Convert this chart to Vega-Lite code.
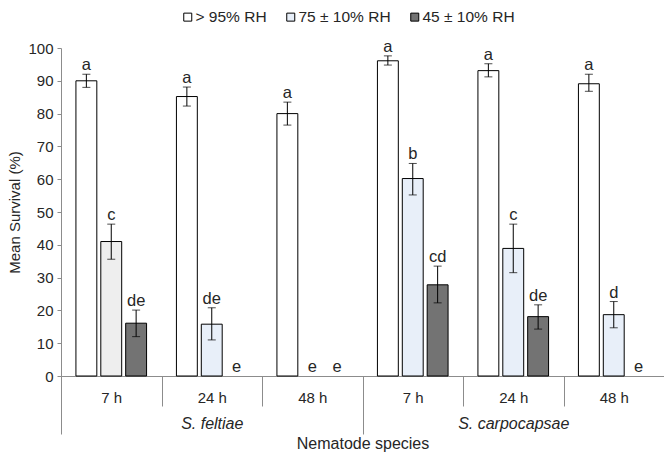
{
  "$schema": "https://vega.github.io/schema/vega-lite/v6.json",
  "autosize": "none",
  "width": 603,
  "height": 328,
  "padding": {"left": 61, "top": 48, "right": 0, "bottom": 83},
  "background": "white",
  "config": {
    "view": {"stroke": null},
    "font": "Liberation Sans",
    "axis": {"labelFont": "Liberation Sans", "titleFont": "Liberation Sans", "labelColor": "#262626", "titleColor": "#262626", "titleFontWeight": "normal", "domainColor": "#8c8c8c", "tickColor": "#8c8c8c", "grid": false},
    "axisY": {"labelOverlap": false, "tickCount": 12, "tickSize": 4, "labelPadding": 4, "labelFontSize": 15, "titleFontSize": 15, "titlePadding": 5},
    "legend": {"labelFont": "Liberation Sans", "labelColor": "#262626"}
  },
  "data": {"values": [
    {"species": "S. feltiae", "hour": "7 h", "series": "\u00a0> 95% RH", "mean": 90, "lo": 88, "hi": 92, "letter": "a"},
    {"species": "S. feltiae", "hour": "7 h", "series": "75 ± 10% RH", "mean": 41, "lo": 35.6, "hi": 46.3, "letter": "c"},
    {"species": "S. feltiae", "hour": "7 h", "series": "45 ± 10% RH", "mean": 16.1, "lo": 12, "hi": 20.1, "letter": "de"},
    {"species": "S. feltiae", "hour": "24 h", "series": "\u00a0> 95% RH", "mean": 85.2, "lo": 82.3, "hi": 88.1, "letter": "a"},
    {"species": "S. feltiae", "hour": "24 h", "series": "75 ± 10% RH", "mean": 15.8, "lo": 11, "hi": 20.8, "letter": "de"},
    {"species": "S. feltiae", "hour": "24 h", "series": "45 ± 10% RH", "mean": 0, "lo": 0, "hi": 0, "letter": "e"},
    {"species": "S. feltiae", "hour": "48 h", "series": "\u00a0> 95% RH", "mean": 80, "lo": 76.5, "hi": 83.5, "letter": "a"},
    {"species": "S. feltiae", "hour": "48 h", "series": "75 ± 10% RH", "mean": 0, "lo": 0, "hi": 0, "letter": "e"},
    {"species": "S. feltiae", "hour": "48 h", "series": "45 ± 10% RH", "mean": 0, "lo": 0, "hi": 0, "letter": "e"},
    {"species": "S. carpocapsae", "hour": "7 h", "series": "\u00a0> 95% RH", "mean": 96.1, "lo": 94.8, "hi": 97.6, "letter": "a"},
    {"species": "S. carpocapsae", "hour": "7 h", "series": "75 ± 10% RH", "mean": 60.2, "lo": 55.2, "hi": 64.8, "letter": "b"},
    {"species": "S. carpocapsae", "hour": "7 h", "series": "45 ± 10% RH", "mean": 27.8, "lo": 22.3, "hi": 33.5, "letter": "cd"},
    {"species": "S. carpocapsae", "hour": "24 h", "series": "\u00a0> 95% RH", "mean": 93.1, "lo": 91.2, "hi": 95.2, "letter": "a"},
    {"species": "S. carpocapsae", "hour": "24 h", "series": "75 ± 10% RH", "mean": 38.9, "lo": 31.5, "hi": 46.3, "letter": "c"},
    {"species": "S. carpocapsae", "hour": "24 h", "series": "45 ± 10% RH", "mean": 18.1, "lo": 14.3, "hi": 21.7, "letter": "de"},
    {"species": "S. carpocapsae", "hour": "48 h", "series": "\u00a0> 95% RH", "mean": 89.1, "lo": 86.8, "hi": 92, "letter": "a"},
    {"species": "S. carpocapsae", "hour": "48 h", "series": "75 ± 10% RH", "mean": 18.7, "lo": 14.7, "hi": 22.7, "letter": "d"},
    {"species": "S. carpocapsae", "hour": "48 h", "series": "45 ± 10% RH", "mean": 0, "lo": 0, "hi": 0, "letter": "e"}
  ]},
  "transform": [{"calculate": "datum.species + '|' + datum.hour", "as": "group"}],
  "resolve": {"scale": {"x": "independent"}, "axis": {"x": "independent"}},
  "layer": [
    {
      "resolve": {"scale": {"x": "shared"}},
      "encoding": {
        "x": {"field": "group", "type": "nominal",
          "scale": {"domain": ["S. feltiae|7 h", "S. feltiae|24 h", "S. feltiae|48 h", "S. carpocapsae|7 h", "S. carpocapsae|24 h", "S. carpocapsae|48 h"], "paddingInner": 0, "paddingOuter": 0},
          "axis": {"orient": "bottom", "title": null, "labelAngle": 0, "labelExpr": "split(datum.value, '|')[1]", "tickBand": "extent", "tickSize": 30, "labelPadding": -16, "labelFontSize": 15}},
        "xOffset": {"field": "series", "type": "nominal", "scale": {"domain": ["\u00a0> 95% RH", "75 ± 10% RH", "45 ± 10% RH"], "paddingInner": 0.16, "paddingOuter": 0.6}}
      },
      "layer": [
        {
          "transform": [{"filter": "datum.mean > 0"}],
          "mark": {"type": "bar", "stroke": "black", "strokeWidth": 1},
          "encoding": {
            "y": {"field": "mean", "type": "quantitative",
              "scale": {"domain": [0, 100], "nice": false},
              "axis": {"title": "Mean Survival (%)", "values": [0, 10, 20, 30, 40, 50, 60, 70, 80, 90, 100], "labelOverlap": false, "tickCount": 12}},
            "fill": {
              "condition": {"test": "datum.species === 'S. feltiae' && datum.hour === '7 h' && datum.series === '75 ± 10% RH'", "value": "#eeeeee"},
              "field": "series", "type": "nominal",
              "scale": {"domain": ["\u00a0> 95% RH", "75 ± 10% RH", "45 ± 10% RH"], "range": ["#ffffff", "#e8eff9", "#737373"]},
              "legend": {"title": null, "orient": "none", "direction": "horizontal", "legendX": 119, "legendY": -39, "symbolType": "square", "symbolSize": 64, "symbolStrokeColor": "black", "symbolStrokeWidth": 1, "labelFontSize": 15.5, "labelOffset": 0, "columnPadding": 16, "padding": 0}
            }
          }
        },
        {
          "transform": [{"filter": "datum.mean > 0"}],
          "mark": {"type": "rule", "color": "black", "strokeWidth": 1},
          "encoding": {"y": {"field": "lo", "type": "quantitative", "axis": {"title": "Mean Survival (%)", "values": [0, 10, 20, 30, 40, 50, 60, 70, 80, 90, 100], "labelOverlap": false, "tickCount": 12}}, "y2": {"field": "hi"}}
        },
        {
          "transform": [{"filter": "datum.mean > 0"}],
          "mark": {"type": "tick", "color": "black", "size": 8, "thickness": 1, "orient": "horizontal"},
          "encoding": {"y": {"field": "lo", "type": "quantitative", "axis": {"title": "Mean Survival (%)", "values": [0, 10, 20, 30, 40, 50, 60, 70, 80, 90, 100], "labelOverlap": false, "tickCount": 12}}}
        },
        {
          "transform": [{"filter": "datum.mean > 0"}],
          "mark": {"type": "tick", "color": "black", "size": 8, "thickness": 1, "orient": "horizontal"},
          "encoding": {"y": {"field": "hi", "type": "quantitative", "axis": {"title": "Mean Survival (%)", "values": [0, 10, 20, 30, 40, 50, 60, 70, 80, 90, 100], "labelOverlap": false, "tickCount": 12}}}
        },
        {
          "mark": {"type": "text", "baseline": "alphabetic", "dy": -4, "fontSize": 16.5, "color": "#262626", "font": "Liberation Sans"},
          "encoding": {"y": {"field": "hi", "type": "quantitative", "axis": {"title": "Mean Survival (%)", "values": [0, 10, 20, 30, 40, 50, 60, 70, 80, 90, 100], "labelOverlap": false, "tickCount": 12}}, "text": {"field": "letter"}}
        }
      ]
    },
    {
      "mark": {"type": "text", "text": ""},
      "encoding": {
        "x": {"field": "species", "type": "nominal",
          "scale": {"domain": ["S. feltiae", "S. carpocapsae"], "paddingInner": 0, "paddingOuter": 0},
          "axis": {"orient": "bottom", "title": "Nematode species", "titleFontSize": 16, "titlePadding": 1, "labelAngle": 0, "tickBand": "extent", "tickSize": 58, "labelPadding": -19, "labelFontSize": 16, "labelFontStyle": "italic", "domain": false}}
      }
    }
  ]
}
